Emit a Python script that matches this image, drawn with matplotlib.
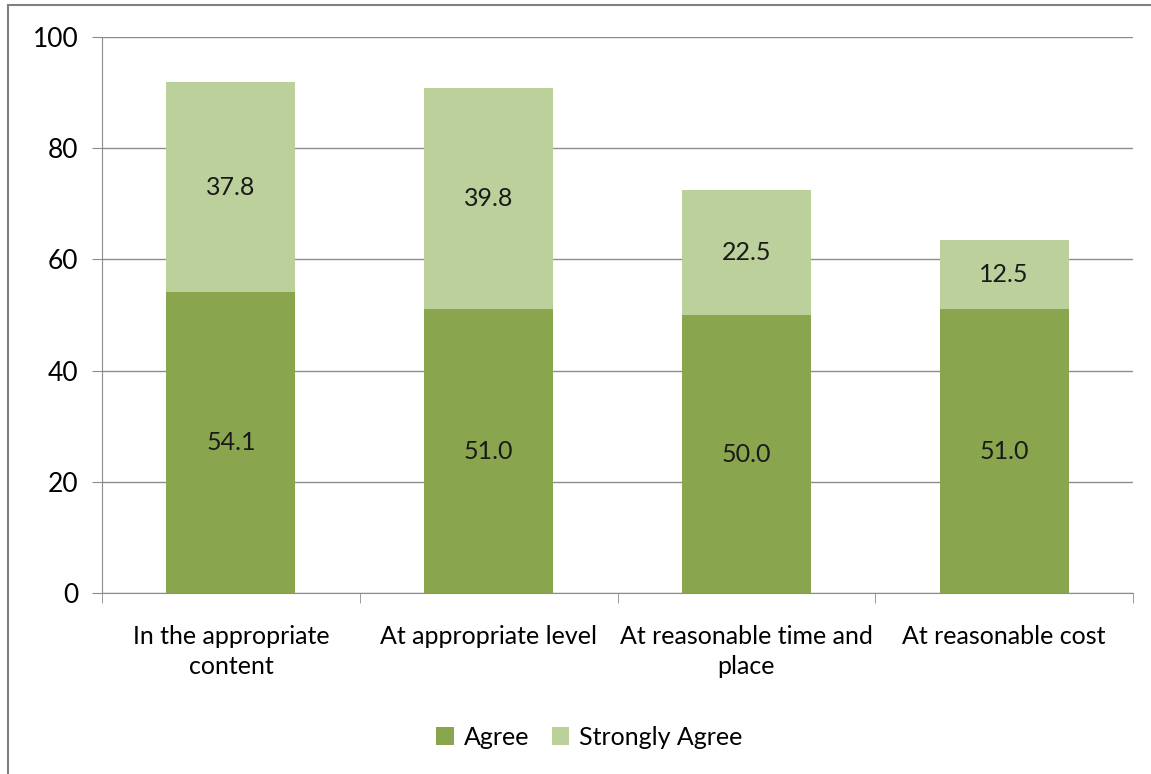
import matplotlib.pyplot as plt
from matplotlib.patches import Rectangle

categories = ["In the appropriate\ncontent", "At appropriate level",
              "At reasonable time and\nplace", "At reasonable cost"]
agree = [54.1, 51.0, 50.0, 51.0]
strongly_agree = [37.8, 39.8, 22.5, 12.5]

c_agree = "#89A54E"
c_strong = "#BBD09A"

plt.rcParams["font.family"] = ["Lato", "DejaVu Sans"]
plt.rcParams["font.size"] = 18

W, H = 1151, 774
fig = plt.figure(figsize=(W / 100, H / 100), dpi=100)
ax = fig.add_axes([102 / W, 1 - 593 / H, (1133 - 102) / W, (593 - 37) / H])

x = range(len(categories))
b1 = ax.bar(x, agree, width=0.5, color=c_agree, label="Agree", zorder=3)
b2 = ax.bar(x, strongly_agree, width=0.5, bottom=agree, color=c_strong,
            label="Strongly Agree", zorder=3)
ax.bar_label(b1, fmt="%.1f", label_type="center", fontsize=18, color="#1a1a1a")
ax.bar_label(b2, fmt="%.1f", label_type="center", fontsize=18, color="#1a1a1a")

ax.set_xlim(-0.5, len(categories) - 0.5)
ax.set_ylim(0, 100)
ax.set_yticks(range(0, 101, 20))
ax.yaxis.grid(True, color="#8c8c8c", lw=1, zorder=0)
ax.set_xticks(list(x))
ax.set_xticklabels(categories, linespacing=1.38)
ax.tick_params(axis="x", length=0, pad=23)
ax.tick_params(axis="y", length=7, color="#8c8c8c", pad=10, labelsize=19)
# category boundary ticks
ax.set_xticks([i - 0.5 for i in range(len(categories) + 1)], minor=True)
ax.tick_params(axis="x", which="minor", length=7, color="#8c8c8c")

for s in ["top", "right"]:
    ax.spines[s].set_visible(False)
for s in ["left", "bottom"]:
    ax.spines[s].set_color("#8c8c8c")

ax.legend(loc="center", bbox_to_anchor=(0.473, -0.259), ncol=2, frameon=False,
          handlelength=0.7, handleheight=0.7, handletextpad=0.4, columnspacing=0.9,
          fontsize=18)

fig.patches.append(Rectangle((8 / W, -0.1), 1.2, 1 - 5 / H + 0.1, transform=fig.transFigure,
                             fill=False, edgecolor="#7f7f7f", lw=1.5))

fig.savefig("out.png", dpi=100)
